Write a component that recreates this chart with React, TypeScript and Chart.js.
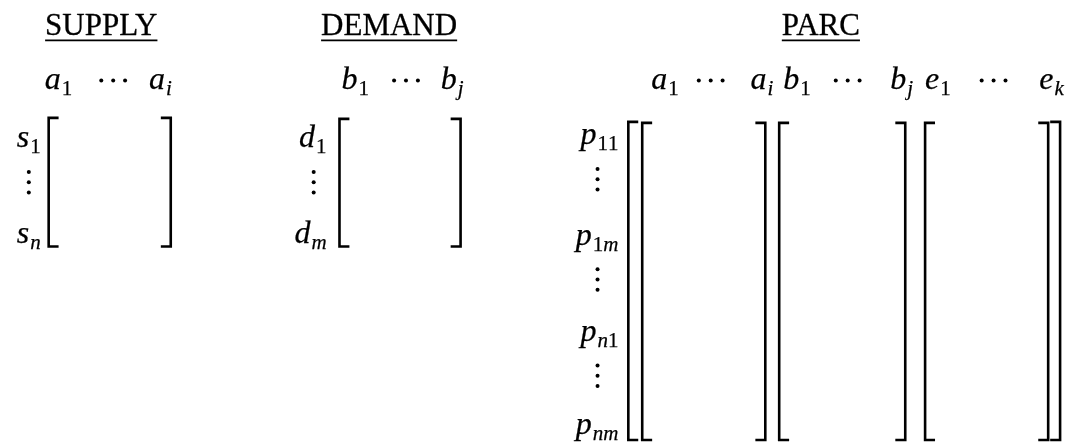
import React, { useEffect, useRef } from "react";
import { Chart, registerables } from "chart.js";

Chart.register(...registerables);

// ---------- data (labels of the diagram) ----------
const TITLES = ["SUPPLY", "DEMAND", "PARC"];
const SUPPLY_COLS = ["a_1", "⋯", "a_i"];
const DEMAND_COLS = ["b_1", "⋯", "b_j"];
const PARC_COLS = ["a_1", "⋯", "a_i", "b_1", "⋯", "b_j", "e_1", "⋯", "e_k"];
const SUPPLY_ROWS = ["s_1", "⋮", "s_n"];
const DEMAND_ROWS = ["d_1", "⋮", "d_m"];
const PARC_ROWS = ["p_11", "⋮", "p_1m", "⋮", "p_n1", "⋮", "p_nm"];

// ---------- layout (positions in scale units) ----------
const W = 1076;
const H = 446;
const TITLE_X = [98, 388, 823];
const TITLE_Y = 32;
const COL_Y = 87;
const SUPPLY_COL_X = [41, 110, 146];
const DEMAND_COL_X = [340, 405, 440];
const PARC_COL_X = [652, 712, 752, 785, 850, 893, 928, 997, 1043];
const SUPPLY_ROW_Y = [146, 0, 243];
const DEMAND_ROW_Y = [146, 0, 243];
const PARC_ROW_Y = [143, 0, 245, 0, 343, 0, 438];
const SUPPLY_ROW_RIGHT = 37;
const DEMAND_ROW_RIGHT = 325;
const PARC_ROW_RIGHT = 619;
const VDOT_X = [25, 312, 598];

const SUPPLY_BRACKET = { left: 45, right: 168, top: 116, bottom: 247 };
const DEMAND_BRACKET = { left: 338, right: 460, top: 117, bottom: 247 };
const PARC_OUTER = { left: 629, right: 1064, top: 120, bottom: 444 };
const PARC_INNER = [
  { left: 643, right: 767, top: 121, bottom: 444 },
  { left: 781, right: 908, top: 121, bottom: 444 },
  { left: 928, right: 1052, top: 121, bottom: 444 },
];
const TICK = 10;

const SERIF = '"Liberation Serif"';
const MAIN_SIZE = 32;
const SUB_SIZE = 21;
const TITLE_SIZE = 31;

type Pt = { x: number; y: number };

function bracketPoints(left: number, top: number, bottom: number, dir: number): Pt[] {
  return [
    { x: left + dir * TICK, y: top },
    { x: left, y: top },
    { x: left, y: bottom },
    { x: left + dir * TICK, y: bottom },
  ];
}

function matrixBrackets(b: { left: number; right: number; top: number; bottom: number }): Pt[][] {
  return [bracketPoints(b.left, b.top, b.bottom, 1), bracketPoints(b.right, b.top, b.bottom, -1)];
}

function hDots(labels: string[], xs: number[]): Pt[] {
  const pts: Pt[] = [];
  labels.forEach((l, i) => {
    if (l === "⋯") {
      [-12, 0, 12].forEach((d) => pts.push({ x: xs[i] + d, y: COL_Y - 9 }));
    }
  });
  return pts;
}

function vDots(labels: string[], ys: number[], x: number): Pt[] {
  const pts: Pt[] = [];
  labels.forEach((l, i) => {
    if (l === "⋮") {
      const base = ys[i - 1] + 25;
      [0, 10.5, 21].forEach((d) => pts.push({ x, y: base + d }));
    }
  });
  return pts;
}

function subFont(ch: string): string {
  return /[0-9]/.test(ch) ? `${SUB_SIZE}px ${SERIF}` : `italic ${SUB_SIZE}px ${SERIF}`;
}

function mathWidth(ctx: CanvasRenderingContext2D, label: string): number {
  const [b, s = ""] = label.split("_");
  ctx.font = `italic ${MAIN_SIZE}px ${SERIF}`;
  let w = ctx.measureText(b).width + 1;
  for (const ch of s) {
    ctx.font = subFont(ch);
    w += ctx.measureText(ch).width;
  }
  return w;
}

function ink(ctx: CanvasRenderingContext2D, t: string, x: number, y: number) {
  ctx.fillText(t, x, y);
  ctx.strokeText(t, x, y);
}

function drawMath(ctx: CanvasRenderingContext2D, label: string, px: number, py: number, align: string) {
  const [b, s = ""] = label.split("_");
  const total = mathWidth(ctx, label);
  let x0 = px;
  if (align === "right") x0 = px - total;
  if (align === "center") x0 = px - total / 2;
  ctx.textAlign = "left";
  ctx.textBaseline = "alphabetic";
  ctx.font = `italic ${MAIN_SIZE}px ${SERIF}`;
  ink(ctx, b, x0, py);
  let xs = x0 + ctx.measureText(b).width + 1;
  for (const ch of s) {
    ctx.font = subFont(ch);
    ink(ctx, ch, xs, py + 6);
    xs += ctx.measureText(ch).width;
  }
}

const textPlugin = {
  id: "mathText",
  afterDatasetsDraw(chart: any) {
    const ctx: CanvasRenderingContext2D = chart.ctx;
    const xs = chart.scales.x;
    const ys = chart.scales.y;
    const X = (v: number) => xs.getPixelForValue(v);
    const Y = (v: number) => ys.getPixelForValue(v);
    ctx.save();
    ctx.fillStyle = "#000";
    ctx.strokeStyle = "#000";
    ctx.lineJoin = "round";
    // titles
    TITLES.forEach((t, i) => {
      ctx.font = `${TITLE_SIZE}px ${SERIF}`;
      ctx.textAlign = "center";
      ctx.textBaseline = "alphabetic";
      ctx.lineWidth = 0.3;
      const w = ctx.measureText(t).width;
      ink(ctx, t, X(TITLE_X[i]), Y(TITLE_Y));
      ctx.lineWidth = 1.8;
      ctx.beginPath();
      ctx.moveTo(X(TITLE_X[i]) - w / 2, Y(TITLE_Y + 5));
      ctx.lineTo(X(TITLE_X[i]) + w / 2, Y(TITLE_Y + 5));
      ctx.stroke();
    });
    ctx.lineWidth = 0.25;
    // column labels
    const cols: [string[], number[]][] = [
      [SUPPLY_COLS, SUPPLY_COL_X],
      [DEMAND_COLS, DEMAND_COL_X],
      [PARC_COLS, PARC_COL_X],
    ];
    cols.forEach(([labels, xsArr]) => {
      labels.forEach((l, i) => {
        if (l !== "⋯") drawMath(ctx, l, X(xsArr[i]), Y(COL_Y), "left");
      });
    });
    // row labels
    const rows: [string[], number[], number][] = [
      [SUPPLY_ROWS, SUPPLY_ROW_Y, SUPPLY_ROW_RIGHT],
      [DEMAND_ROWS, DEMAND_ROW_Y, DEMAND_ROW_RIGHT],
      [PARC_ROWS, PARC_ROW_Y, PARC_ROW_RIGHT],
    ];
    rows.forEach(([labels, yArr, right]) => {
      labels.forEach((l, i) => {
        if (l !== "⋮") drawMath(ctx, l, X(right), Y(yArr[i]), "right");
      });
    });
    ctx.restore();
  },
};

export default function App() {
  const ref = useRef<HTMLCanvasElement | null>(null);

  useEffect(() => {
    if (!ref.current) return;
    const bracketSets: Pt[][] = [
      ...matrixBrackets(SUPPLY_BRACKET),
      ...matrixBrackets(DEMAND_BRACKET),
      ...matrixBrackets(PARC_OUTER),
      ...PARC_INNER.flatMap((b) => matrixBrackets(b)),
    ];
    const lineSets = bracketSets.map((pts) => ({
      type: "line" as const,
      data: pts,
      showLine: true,
      borderColor: "#000",
      borderWidth: 2.6,
      pointRadius: 0,
      fill: false,
      tension: 0,
      borderCapStyle: "butt" as const,
      borderJoinStyle: "miter" as const,
      clip: false as any,
    }));
    const dots: Pt[] = [
      ...hDots(SUPPLY_COLS, SUPPLY_COL_X),
      ...hDots(DEMAND_COLS, DEMAND_COL_X),
      ...hDots(PARC_COLS, PARC_COL_X),
      ...vDots(SUPPLY_ROWS, SUPPLY_ROW_Y, VDOT_X[0]),
      ...vDots(DEMAND_ROWS, DEMAND_ROW_Y, VDOT_X[1]),
      ...vDots(PARC_ROWS, PARC_ROW_Y, VDOT_X[2]),
    ];
    const chart = new Chart(ref.current, {
      type: "scatter",
      data: {
        datasets: [
          ...lineSets,
          {
            type: "scatter",
            data: dots,
            pointRadius: 2,
            pointBackgroundColor: "#000",
            pointBorderWidth: 0,
            showLine: false,
          } as any,
        ],
      },
      options: {
        animation: false,
        responsive: true,
        maintainAspectRatio: false,
        layout: { padding: 0 },
        plugins: { legend: { display: false }, tooltip: { enabled: false } },
        events: [],
        scales: {
          x: { type: "linear", min: 0, max: W, display: false },
          y: { type: "linear", min: 0, max: H, reverse: true, display: false },
        },
      },
      plugins: [textPlugin],
    });
    let alive = true;
    const fonts: any = (document as any).fonts;
    if (fonts && fonts.load) {
      Promise.all([
        fonts.load(`italic ${MAIN_SIZE}px ${SERIF}`),
        fonts.load(`${MAIN_SIZE}px ${SERIF}`),
        fonts.load(`italic ${SUB_SIZE}px ${SERIF}`),
      ])
        .then(() => {
          if (alive) chart.update("none");
        })
        .catch(() => {});
    }
    return () => {
      alive = false;
      chart.destroy();
    };
  }, []);

  return (
    <div style={{ position: "absolute", left: 0, top: 0, width: W, height: H, background: "#fff" }}>
      <span style={{ position: "absolute", left: -9999, fontFamily: SERIF }}>
        <i>a</i>a
      </span>
      <canvas ref={ref} />
    </div>
  );
}
